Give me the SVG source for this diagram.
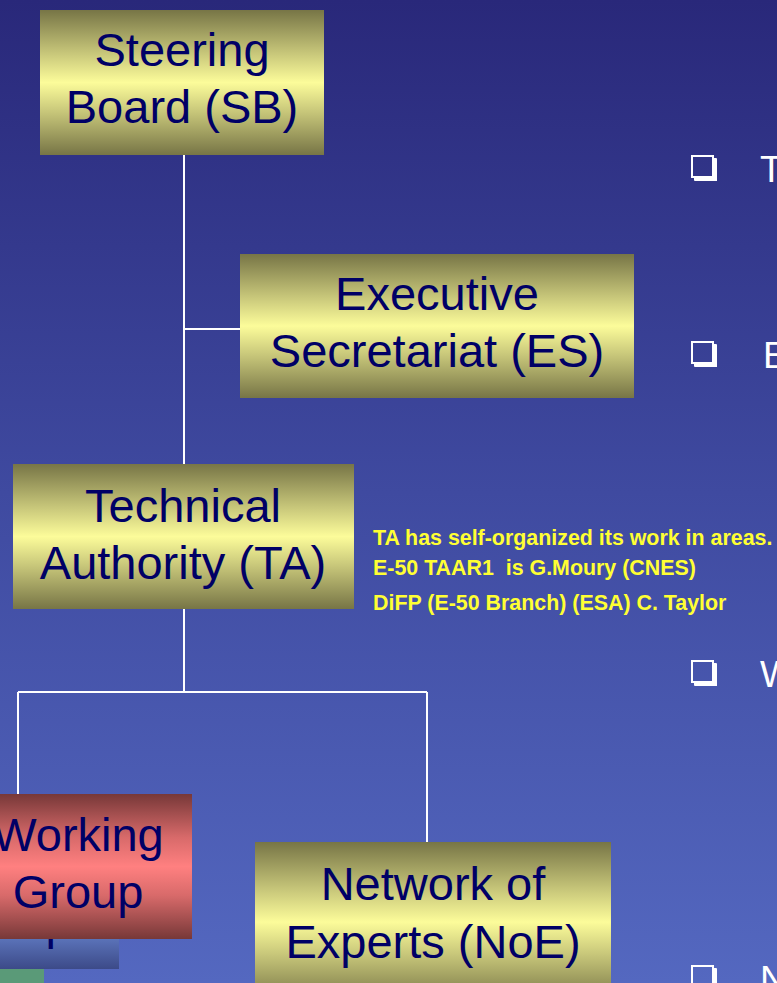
<svg xmlns="http://www.w3.org/2000/svg" width="777" height="983" viewBox="0 0 777 983">
<defs>
<linearGradient id="bg" x1="0" y1="0" x2="0" y2="1">
<stop offset="0" stop-color="#29287a"/>
<stop offset="0.5" stop-color="#3f4aa0"/>
<stop offset="1" stop-color="#5468c0"/>
</linearGradient>
<linearGradient id="gold" x1="0" y1="0" x2="0" y2="1">
<stop offset="0" stop-color="#777546"/>
<stop offset="0.3" stop-color="#c8c77a"/>
<stop offset="0.5" stop-color="#fcfc9a"/>
<stop offset="0.7" stop-color="#c8c77a"/>
<stop offset="1" stop-color="#777546"/>
</linearGradient>
<linearGradient id="red" x1="0" y1="0" x2="0" y2="1">
<stop offset="0" stop-color="#773838"/>
<stop offset="0.3" stop-color="#d86a6a"/>
<stop offset="0.5" stop-color="#ff8080"/>
<stop offset="0.7" stop-color="#d86a6a"/>
<stop offset="1" stop-color="#773838"/>
</linearGradient>
<linearGradient id="blu" x1="0" y1="0" x2="0" y2="1">
<stop offset="0" stop-color="#5a72b8"/>
<stop offset="1" stop-color="#3c4a88"/>
</linearGradient>
<clipPath id="hiddenClip">
<rect x="0" y="939" width="119" height="30"/>
</clipPath>
<symbol id="bullet" viewBox="0 0 27 27" width="27" height="27">
<rect x="1" y="1" width="21" height="21" fill="none" stroke="#ffffff" stroke-width="2"/>
<path d="M22 3 H25 Q26 3 26 4 V26 H4 Q3 26 3 25 V22 H22 Z" fill="#ffffff"/>
</symbol>
<style>
.box{font-family:"Liberation Sans",Arial,sans-serif;font-size:47px;fill:#000066;text-anchor:middle}
.note{font-family:"Liberation Sans",Arial,sans-serif;font-size:21.4px;font-weight:bold;fill:#ffff33}
.bl{font-family:"Liberation Sans",Arial,sans-serif;font-size:37px;fill:#ffffff}
.con{stroke:#ffffff;stroke-width:2;fill:none}
</style>
</defs>
<rect x="0" y="0" width="777" height="983" fill="url(#bg)"/>

<g id="connectors">
<path class="con" d="M184 155 V464 M184 329 H240 M184 609 V692 M18 692 H427 M18 692 V794 M427 692 V842"/>
</g>

<g id="sb">
<rect x="40" y="10" width="284" height="145" fill="url(#gold)"/>
<text class="box" x="182" y="66">Steering</text>
<text class="box" x="182" y="123">Board (SB)</text>
</g>

<g id="es">
<rect x="240" y="254" width="394" height="144" fill="url(#gold)"/>
<text class="box" x="437" y="310">Executive</text>
<text class="box" x="437" y="367">Secretariat (ES)</text>
</g>

<g id="ta">
<rect x="13" y="464" width="341" height="145" fill="url(#gold)"/>
<text class="box" x="183" y="522">Technical</text>
<text class="box" x="183" y="579">Authority (TA)</text>
</g>

<g id="ta-note">
<text class="note" x="373" y="545">TA has self-organized its work in areas.</text>
<text class="note" x="373" y="575">E-50 TAAR1&#160; is G.Moury (CNES)</text>
<text class="note" x="373" y="610">DiFP (E-50 Branch) (ESA) C. Taylor</text>
</g>

<g id="hidden">
<rect x="0" y="939" width="119" height="30" fill="url(#blu)"/>
<rect x="0" y="969" width="44" height="14" fill="#5a9a78"/>
<g clip-path="url(#hiddenClip)">
<text class="box" x="-59" y="939" style="text-anchor:start">Group</text>
</g>
</g>

<g id="wg">
<rect x="-40" y="794" width="232" height="145" fill="url(#red)"/>
<text class="box" x="78" y="851">Working</text>
<text class="box" x="78" y="908">Group</text>
</g>

<g id="noe">
<rect x="255" y="842" width="356" height="160" fill="url(#gold)"/>
<text class="box" x="433" y="900">Network of</text>
<text class="box" x="433" y="958">Experts (NoE)</text>
</g>

<g id="bullets">
<use href="#bullet" x="691" y="155"/>
<text class="bl" x="760" y="182">T</text>
<use href="#bullet" x="691" y="341"/>
<text class="bl" x="763" y="368">E</text>
<use href="#bullet" x="691" y="660"/>
<text class="bl" x="760" y="687">W</text>
<use href="#bullet" x="691" y="965"/>
<text class="bl" x="760" y="992">N</text>
</g>
</svg>
